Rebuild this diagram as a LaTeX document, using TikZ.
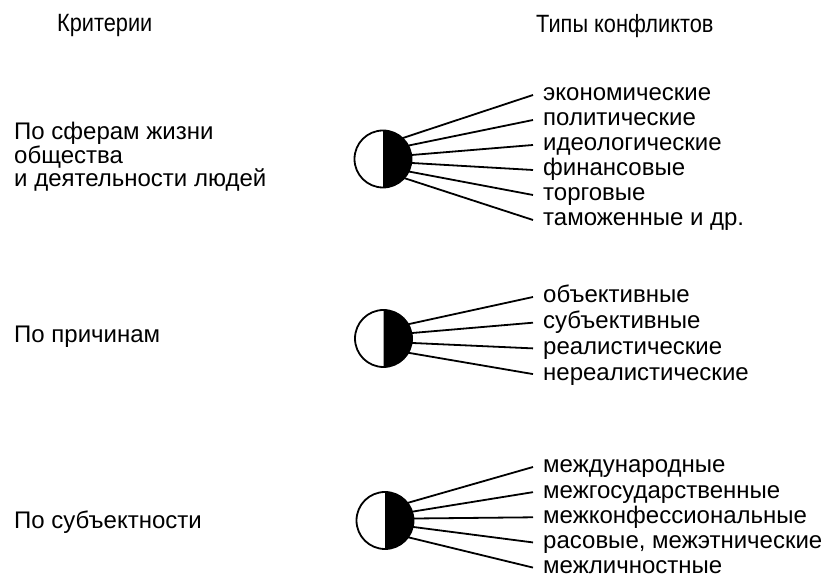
\documentclass[tikz,border=0pt]{standalone}
\usepackage{fontspec}
\setmainfont{Liberation Sans}
\newfontfamily\narrowfont[FakeStretch=0.87]{Liberation Sans}
\usetikzlibrary{positioning}

\begin{document}
\begin{tikzpicture}[x=1pt, y=1pt, node distance=2.6pt and 0pt, every node/.style={scale=1.0},
    head/.style={font=\narrowfont\fontsize{25}{28}\selectfont, anchor=west, inner sep=0pt},
    crit/.style={font=\fontsize{24}{22.5}\selectfont, align=left, anchor=west, inner sep=0pt},
    kind/.style={font=\fontsize{24}{26}\selectfont, anchor=west, inner xsep=10pt, inner ysep=0pt,
      text height=17pt, text depth=5pt},
    ball/.style={draw, circle, minimum size=57pt, inner sep=0pt, outer sep=0pt, line width=1.8pt},
    ray/.style={line width=1.8pt}]
      \useasboundingbox (0,0) rectangle (827,580);

      \node[head] (h0) at (57,554) {Критерии};
      \node[head] (h1) at (536,554) {Типы конфликтов};

      % по сферам
      \node[crit] (k1) at (14,423) {По сферам жизни\\общества\\и деятельности людей};
      \node[ball] (c1) at (383,421) {};
      \fill (c1.south) arc[start angle=-90, end angle=90, radius=28.5] -- cycle;
      \node[kind] (a1) at (533,485) {экономические};
      \node[kind] (a2) [below=of a1.south west, anchor=north west] {политические};
      \node[kind] (a3) [below=of a2.south west, anchor=north west] {идеологические};
      \node[kind] (a4) [below=of a3.south west, anchor=north west] {финансовые};
      \node[kind] (a5) [below=of a4.south west, anchor=north west] {торговые};
      \node[kind] (a6) [below=of a5.south west, anchor=north west] {таможенные и др.};

      \draw[ray] (c1.47) edge [] (a1.west);
      \draw[ray] (c1.28) edge [] (a2.west);
      \draw[ray] (c1.8) edge [] (a3.west);
      \draw[ray] (c1.-8) edge [] (a4.west);
      \draw[ray] (c1.-26) edge [] (a5.west);
      \draw[ray] (c1.-42) edge [] (a6.west);

      % по причинам
      \node[crit] (k2) at (14,243) {По причинам};
      \node[ball] (c2) at (383.5,241.5) {};
      \fill (c2.south) arc[start angle=-90, end angle=90, radius=28.5] -- cycle;
      \node[kind] (b1) at (533,283) {объективные};
      \node[kind] (b2) [below=3.3pt of b1.south west, anchor=north west] {субъективные};
      \node[kind] (b3) [below=3.3pt of b2.south west, anchor=north west] {реалистические};
      \node[kind] (b4) [below=3.3pt of b3.south west, anchor=north west] {нереалистические};

      \draw[ray] (c2.30) edge [] (b1.west);
      \draw[ray] (c2.11) edge [] (b2.west);
      \draw[ray] (c2.-9) edge [] (b3.west);
      \draw[ray] (c2.-30) edge [] (b4.west);

      % по субъектности
      \node[crit] (k3) at (14,58) {По субъектности};
      \node[ball] (c3) at (385,59.5) {};
      \fill (c3.south) arc[start angle=-90, end angle=90, radius=28.5] -- cycle;
      \node[kind] (d1) at (533,113) {международные};
      \node[kind] (d2) [below=2.75pt of d1.south west, anchor=north west] {межгосударственные};
      \node[kind] (d3) [below=2.75pt of d2.south west, anchor=north west] {межконфессиональные};
      \node[kind] (d4) [below=2.75pt of d3.south west, anchor=north west] {расовые, межэтнические};
      \node[kind] (d5) [below=2.75pt of d4.south west, anchor=north west] {межличностные};

      \draw[ray] (c3.38) edge [] (d1.west);
      \draw[ray] (c3.18) edge [] (d2.west);
      \draw[ray] (c3.4) edge [] (d3.west);
      \draw[ray] (c3.-13) edge [] (d4.west);
      \draw[ray] (c3.-36) edge [] (d5.west);
    \end{tikzpicture}
\end{document}
